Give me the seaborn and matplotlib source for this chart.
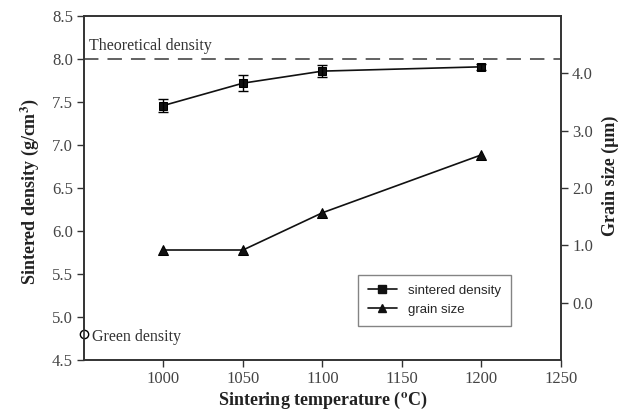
import matplotlib
matplotlib.use("Agg")
import matplotlib.pyplot as plt
import seaborn as sns
import pandas as pd
from matplotlib.lines import Line2D

temperature = [1000, 1050, 1100, 1200]
sintered_density = [7.46, 7.72, 7.86, 7.91]
density_err = [0.08, 0.09, 0.07, 0.035]
grain_size = [0.92, 0.92, 1.57, 2.58]
green_density = 4.8
theoretical_density = 8.0

x_ticks = [1000, 1050, 1100, 1150, 1200, 1250]
left_ticks = [4.5, 5.0, 5.5, 6.0, 6.5, 7.0, 7.5, 8.0, 8.5]
right_ticks = [0.0, 1.0, 2.0, 3.0, 4.0]

df = pd.DataFrame({"T": temperature, "density": sintered_density,
                   "err": density_err, "grain": grain_size})

sns.set_style("ticks")
plt.rcParams["font.family"] = ["Liberation Serif", "DejaVu Serif"]
plt.rcParams["mathtext.fontset"] = "stix"

fig = plt.figure(figsize=(6.24, 4.12), dpi=100)
ax = fig.add_axes([0.1346, 0.126, 0.7644, 0.835])
ax2 = ax.twinx()

spine_col = "#333333"
for a in (ax, ax2):
    for s in a.spines.values():
        s.set_color(spine_col)
        s.set_linewidth(1.2)
    a.tick_params(colors=spine_col, labelcolor="#444444", labelsize=12,
                  length=5, width=1.0, direction="out", pad=3)

sns.lineplot(data=df, x="T", y="density", ax=ax, color="#111111", lw=1.2,
             marker="s", markersize=5.5, markeredgecolor="black", zorder=3)
ax.errorbar(df["T"], df["density"], yerr=df["err"], fmt="none",
            ecolor="black", elinewidth=1.0, capsize=3.5, capthick=1.0, zorder=4)
sns.lineplot(data=df, x="T", y="grain", ax=ax2, color="#111111", lw=1.2,
             marker="^", markersize=6.5, markeredgecolor="black", zorder=3)

ax.axhline(theoretical_density, color="#555555", lw=1.3, ls=(0, (8, 5)), zorder=2)
ax.plot([950], [green_density], marker="o", ms=6, mfc="white", mec="black",
        mew=1.0, clip_on=False, zorder=5)
ax.text(953, 8.15, "Theoretical density", fontsize=11.5, color="#333333",
        va="center")
ax.text(955, green_density - 0.03, "Green density", fontsize=11.5,
        color="#333333", va="center")

ax.set_xlim(950, 1250)
ax.set_ylim(4.5, 8.5)
ax2.set_ylim(-1, 5)
ax.set_xticks(x_ticks)
ax.set_yticks(left_ticks)
ax.set_yticklabels([f"{v:.1f}" for v in left_ticks])
ax2.set_yticks(right_ticks)
ax2.set_yticklabels([f"{v:.1f}" for v in right_ticks])

ax.set_xlabel("Sintering temperature ($^{\\mathbf{o}}$C)", fontsize=13,
              fontweight="bold", color="#222222")
ax.set_ylabel("Sintered density (g/cm$^{\\mathbf{3}}$)", fontsize=13,
              fontweight="bold", color="#222222")
ax2.set_ylabel("Grain size (\u03bcm)", fontsize=13, fontweight="bold",
               color="#222222")
ax.xaxis.set_label_coords(0.5, -0.088)
ax.yaxis.set_label_coords(-0.09, 0.49)
ax2.yaxis.set_label_coords(1.085, 0.535)

handles = [
    Line2D([], [], color="#111111", lw=1.2, marker="s", ms=5.5),
    Line2D([], [], color="#111111", lw=1.2, marker="^", ms=6),
]
leg = ax2.legend(handles, ["sintered density", "grain size"],
                 loc="upper left", bbox_to_anchor=(0.56, 0.267),
                 prop={"family": "Liberation Sans", "size": 9.5},
                 frameon=True, fancybox=False, edgecolor="#666666",
                 handlelength=2.25, borderpad=0.75, labelspacing=0.5)
leg.get_frame().set_linewidth(1.0)

fig.savefig("out.png", dpi=100)
